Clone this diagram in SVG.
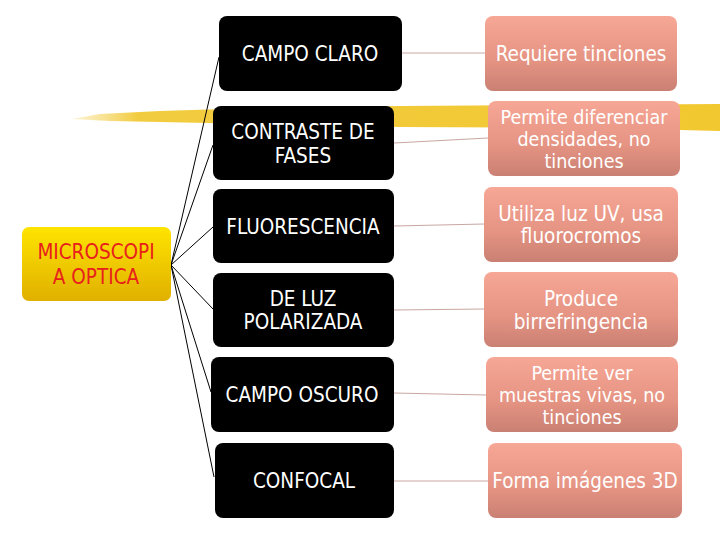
<svg xmlns="http://www.w3.org/2000/svg" width="720" height="540" viewBox="0 0 720 540">
<defs>
<linearGradient id="gy" x1="0" y1="0" x2="0" y2="1"><stop offset="0" stop-color="#ffe400"/><stop offset="1" stop-color="#e0b000"/></linearGradient>
<linearGradient id="gs" x1="0" y1="0" x2="0" y2="1"><stop offset="0" stop-color="#f7a796"/><stop offset="0.6" stop-color="#e59382"/><stop offset="1" stop-color="#c98073"/></linearGradient>
<linearGradient id="gh" x1="0" y1="0" x2="1" y2="0"><stop offset="0" stop-color="#f6d870" stop-opacity="0.3"/><stop offset="0.1" stop-color="#f2cc40"/><stop offset="1" stop-color="#f2c830"/></linearGradient>
</defs>
<style>
.blk{fill:#000}
.sal{fill:url(#gs)}
.t{font-family:"DejaVu Sans Condensed","DejaVu Sans",sans-serif;font-size:20.5px;text-anchor:middle;fill:#fff}
.s{font-size:19.5px}
.r{fill:#e8201c}
.c{stroke:#000;stroke-width:1;fill:none}
.p{stroke:#c9a7a3;stroke-width:1;fill:none}
</style>
<rect width="720" height="540" fill="#fff"/>
<path d="M72,119 L100,114 L160,111 L260,108 L400,106 L560,105 L720,104 L720,131 L600,128 L400,127 L260,124 L160,122 L110,121 Z" fill="url(#gh)"/>
<g id="connectors">
<line class="c" x1="171" y1="265" x2="219" y2="57"/>
<line class="c" x1="171" y1="265" x2="213" y2="145"/>
<line class="c" x1="171" y1="265" x2="213" y2="227"/>
<line class="c" x1="171" y1="265" x2="213" y2="309"/>
<line class="c" x1="171" y1="265" x2="211" y2="392"/>
<line class="c" x1="171" y1="265" x2="214" y2="477"/>
<line class="p" x1="402" y1="53" x2="485" y2="53"/>
<line class="p" x1="394" y1="143" x2="488" y2="138"/>
<line class="p" x1="394" y1="226" x2="484" y2="224"/>
<line class="p" x1="394" y1="310" x2="484" y2="309"/>
<line class="p" x1="394" y1="393" x2="486" y2="395"/>
<line class="p" x1="394" y1="481" x2="488" y2="481"/>
</g>
<g id="root">
<rect x="22" y="227" width="149" height="74" rx="7" fill="url(#gy)"/>
<text class="t r" x="96" y="259">MICROSCOPI</text>
<text class="t r" x="96" y="284">A OPTICA</text>
</g>
<g id="n1"><rect class="blk" x="219" y="16" width="183" height="75" rx="8"/><text class="t" x="310" y="61">CAMPO CLARO</text></g>
<g id="n2"><rect class="blk" x="213" y="106" width="181" height="74" rx="8"/><text class="t" x="303" y="139">CONTRASTE DE</text><text class="t" x="303" y="163">FASES</text></g>
<g id="n3"><rect class="blk" x="213" y="189" width="181" height="74" rx="8"/><text class="t" x="303" y="234">FLUORESCENCIA</text></g>
<g id="n4"><rect class="blk" x="213" y="273" width="181" height="74" rx="8"/><text class="t" x="303" y="306">DE LUZ</text><text class="t" x="303" y="329">POLARIZADA</text></g>
<g id="n5"><rect class="blk" x="211" y="357" width="183" height="75" rx="8"/><text class="t" x="302" y="402">CAMPO OSCURO</text></g>
<g id="n6"><rect class="blk" x="215" y="443" width="179" height="75" rx="8"/><text class="t" x="304" y="488">CONFOCAL</text></g>
<g id="d1"><rect class="sal" x="485" y="16" width="192" height="75" rx="8"/><text class="t" x="581" y="61">Requiere tinciones</text></g>
<g id="d2"><rect class="sal" x="488" y="101" width="192" height="75" rx="8"/><text class="t s" x="584" y="124">Permite diferenciar</text><text class="t s" x="584" y="146">densidades, no</text><text class="t s" x="584" y="168">tinciones</text></g>
<g id="d3"><rect class="sal" x="484" y="187" width="194" height="75" rx="8"/><text class="t" x="581" y="221">Utiliza luz UV, usa</text><text class="t" x="581" y="243">fluorocromos</text></g>
<g id="d4"><rect class="sal" x="484" y="272" width="194" height="75" rx="8"/><text class="t" x="581" y="306">Produce</text><text class="t" x="581" y="329">birrefringencia</text></g>
<g id="d5"><rect class="sal" x="486" y="357" width="192" height="75" rx="8"/><text class="t s" x="582" y="380">Permite ver</text><text class="t s" x="582" y="402">muestras vivas, no</text><text class="t s" x="582" y="424">tinciones</text></g>
<g id="d6"><rect class="sal" x="488" y="443" width="194" height="75" rx="8"/><text class="t" x="585" y="488">Forma imágenes 3D</text></g>
</svg>
